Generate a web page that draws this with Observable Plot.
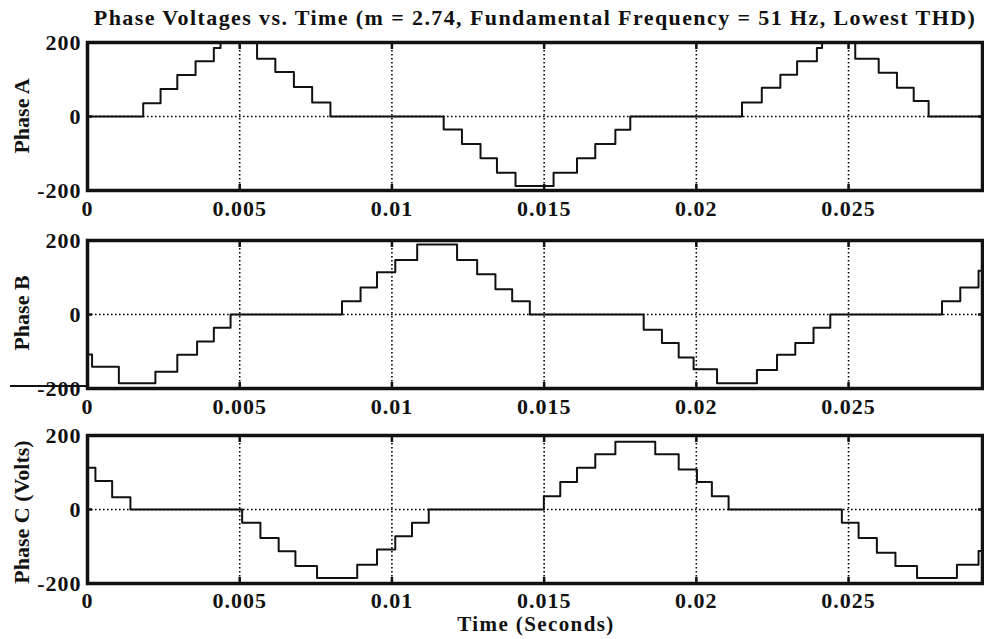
<!DOCTYPE html>
<html><head><meta charset="utf-8">
<script src="https://cdn.jsdelivr.net/npm/d3@7"></script>
<script src="https://cdn.jsdelivr.net/npm/@observablehq/plot@0.6"></script>
<style>
body{margin:0;background:#fff;}
#wrap{position:relative;width:984px;height:639px;font-family:"Liberation Serif","Times New Roman",serif;font-weight:bold;color:#111;overflow:hidden;}
.pane{position:absolute;left:0;}
#title{position:absolute;top:17.5px;left:535px;transform:translate(-50%,-50%);white-space:nowrap;font-size:22px;letter-spacing:1.4px;}
#xlabel{position:absolute;top:624px;left:536px;transform:translate(-50%,-50%);white-space:nowrap;font-size:21px;letter-spacing:1.4px;line-height:18px;}
.ylab{position:absolute;left:22px;transform:translate(-50%,-50%) rotate(-90deg);white-space:nowrap;font-size:22px;}
#artifact{position:absolute;left:10px;top:385px;width:78px;height:2px;background:#111;}
</style></head>
<body><div id="wrap"></div>
<script>
// time in milliseconds, value in volts (step-after levels)
const tA = [0, 1.83, 2.40, 2.95, 3.55, 4.15, 4.37, 5.57, 6.17, 6.78, 7.38, 7.98, 11.70, 12.30, 12.91, 13.45, 14.06, 15.31, 16.08, 16.68, 17.34, 17.83, 21.50, 22.15, 22.76, 23.31, 23.96, 24.13, 25.22, 25.99, 26.59, 27.14, 27.63, 29.4];
const vA = [0, 36, 74, 112, 149, 185, 202, 156, 120, 80, 38, 0, -35, -74, -113, -152, -188, -152, -113, -74, -36, 0, 38, 78, 113, 149, 185, 202, 156, 118, 78, 42, 0, 0];
const tB = [0, 0.15, 1.03, 2.23, 2.95, 3.60, 4.15, 4.70, 8.36, 8.97, 9.51, 10.11, 10.83, 12.14, 12.80, 13.40, 13.95, 14.53, 18.27, 18.87, 19.42, 19.91, 20.68, 21.99, 22.65, 23.25, 23.85, 24.40, 28.07, 28.67, 29.27, 29.4];
const vB = [-108, -141, -186, -155, -109, -73, -36, 0, 36, 73, 114, 147, 189, 147, 109, 68, 36, 0, -41, -77, -116, -148, -186, -150, -109, -77, -36, 0, 36, 73, 118, 118];
const tC = [0, 0.26, 0.81, 1.41, 5.08, 5.68, 6.28, 6.83, 7.54, 8.86, 9.51, 10.11, 10.66, 11.21, 14.99, 15.53, 16.08, 16.68, 17.34, 18.65, 19.42, 20.02, 20.51, 21.06, 24.78, 25.33, 25.93, 26.54, 27.25, 28.56, 29.27, 29.4];
const vC = [113, 77, 33, 0, -36, -77, -113, -153, -185, -149, -108, -72, -36, 0, 36, 74, 113, 149, 183, 149, 108, 74, 36, 0, -36, -77, -117, -153, -185, -149, -112, -112];

const xTicks = [0, 0.005, 0.01, 0.015, 0.02, 0.025];
const xTickLabels = ["0", "0.005", "0.01", "0.015", "0.02", "0.025"];
const yTicks = [-200, 0, 200];
const yTickLabels = ["-200", "0", "200"];
const xDomain = [0, 0.0294];
const yDomain = [-200, 200];

const titleText = "Phase Voltages vs. Time (m = 2.74, Fundamental Frequency = 51 Hz, Lowest THD)";
const xLabelText = "Time (Seconds)";
const panelLabels = ["Phase A", "Phase B", "Phase C (Volts)"];

const wrap = document.getElementById("wrap");
const fontOpts = {fontSize: 22, fontWeight: "bold", fontFamily: "Liberation Serif, Times New Roman, serif"};
const dotted = {stroke: "#000", strokeOpacity: 1, strokeWidth: 1.6, strokeDasharray: "1.6,2.4"};

function panel(ts, vs, top, pad) {
  const data = ts.map((t, i) => ({t: t / 1000, v: vs[i]}));
  const svg = Plot.plot({
    width: 984, height: 198,
    marginLeft: 87, marginRight: 2, marginTop: 20, marginBottom: 30,
    x: {domain: xDomain},
    y: {domain: yDomain},
    style: {background: "transparent", color: "#111", letterSpacing: "1px", overflow: "visible"},
    marks: [
      Plot.gridX(xTicks.slice(1), dotted),
      Plot.ruleY([0], dotted),
      Plot.line(data, {x: "t", y: "v", curve: "step-after", stroke: "#111", strokeWidth: 2, clip: true}),
      Plot.frame({stroke: "#111", strokeWidth: 3.5}),
      Plot.axisX({anchor: "bottom", ticks: xTicks, tickSize: -6, tickPadding: pad, strokeWidth: 2.5,
        tickFormat: d => xTickLabels[xTicks.indexOf(d)], label: null, ...fontOpts, fill: "#111"}),
      Plot.axisX({anchor: "top", ticks: xTicks, tickSize: -6, strokeWidth: 2.5, tickFormat: () => "", label: null}),
      Plot.axisY({anchor: "left", ticks: yTicks, tickSize: -5, tickPadding: 11, strokeWidth: 2.5,
        tickFormat: d => yTickLabels[yTicks.indexOf(d)], label: null, ...fontOpts, fill: "#111"}),
      Plot.axisY({anchor: "right", ticks: [0], tickSize: -5, strokeWidth: 2.5, tickFormat: () => "", label: null})
    ]
  });
  svg.classList.add("pane");
  svg.style.top = top + "px";
  wrap.appendChild(svg);
}

panel(tA, vA, 22, 16);
panel(tB, vB, 220, 16);
panel(tC, vC, 415, 15);

const title = document.createElement("div");
title.id = "title"; title.textContent = titleText; wrap.appendChild(title);
const xl = document.createElement("div");
xl.id = "xlabel"; xl.textContent = xLabelText; wrap.appendChild(xl);
[116, 313, 512].forEach((y, i) => {
  const d = document.createElement("div");
  d.className = "ylab"; d.style.top = y + "px"; d.textContent = panelLabels[i];
  wrap.appendChild(d);
});
const art = document.createElement("div"); art.id = "artifact"; wrap.appendChild(art);
</script>
</body></html>
